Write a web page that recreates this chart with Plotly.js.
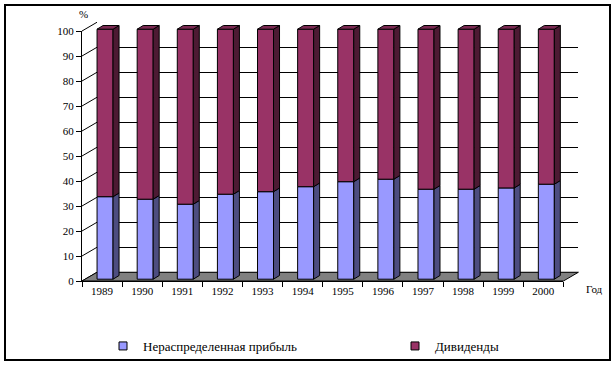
<!DOCTYPE html>
<html><head><meta charset="utf-8">
<script src="https://cdn.plot.ly/plotly-3.0.1.min.js"></script>
<style>html,body{margin:0;padding:0;background:#fff}</style>
</head><body><div id="chart" style="width:615px;height:365px"></div>
<script>
// ---- data ----
const years = ['1989','1990','1991','1992','1993','1994','1995','1996','1997','1998','1999','2000'];
const retained = [33, 32, 30, 34, 35, 37, 39, 40, 36, 36, 36.5, 38];
const dividends = [67, 68, 70, 66, 65, 63, 61, 60, 64, 64, 63.5, 62];
const yTicks = [0, 10, 20, 30, 40, 50, 60, 70, 80, 90, 100];
const seriesNames = ['Нераспределенная прибыль', 'Дивиденды'];

// ---- style / geometry ----
const W = 615, H = 365;
const PXX = (563.4 - 82) / 12;   // px per category
const PXY = 2.5;                 // px per percent
const DX = 15 / PXX, DY = 8.75 / PXY;   // wall depth
const FX = 3 / PXX, FY = 1.8 / PXY;     // bar front offset
const BX = 6 / PXX, BY = 3.7 / PXY;     // bar depth
const BW = 16 / PXX;                    // bar width
const colFront = ['#9999FF', '#993366'];
const colSide = ['#4D4D80', '#4D1A33'];
const colTop = ['#7A7ACC', '#7A2952'];

function px2x(px) { return (px - 82) / PXX - 0.5; }
function px2y(py) { return (281 - py) / PXY; }

function polys(list) {
  const x = [], y = [];
  list.forEach(p => {
    p.forEach(pt => { x.push(pt[0]); y.push(pt[1]); });
    x.push(p[0][0]); y.push(p[0][1]);
    x.push(null); y.push(null);
  });
  return {x, y};
}
function polyTrace(list, fill) {
  const p = polys(list);
  return {x: p.x, y: p.y, xaxis: 'x2', yaxis: 'y2', type: 'scatter', mode: 'lines',
    fill: 'toself', fillcolor: fill, line: {color: '#000', width: 1},
    showlegend: false, hoverinfo: 'skip'};
}

const traces = [];
// dummy for back wall subplot
traces.push({x: [0], y: [null], xaxis: 'x', yaxis: 'y', mode: 'markers', showlegend: false, hoverinfo: 'skip'});

// left wall diagonals
const dx = [], dy = [];
yTicks.forEach(v => { dx.push(-0.5, -0.5 + DX, null); dy.push(v, v + DY, null); });
traces.push({x: dx, y: dy, xaxis: 'x2', yaxis: 'y2', mode: 'lines', line: {color: '#000', width: 1}, showlegend: false, hoverinfo: 'skip'});

// floor
const n = years.length;
traces.push(polyTrace([[[-0.5, 0], [n - 0.5, 0], [n - 0.5 + DX, DY], [-0.5 + DX, DY]]], '#808080'));

// bars
const rFront = [], rSide = [], dFront = [], dSide = [], dTop = [];
for (let i = 0; i < n; i++) {
  const xl = i - BW / 2 + FX, xr = xl + BW;
  const y0 = FY, y1 = FY + retained[i], y2 = y1 + dividends[i];
  rFront.push([[xl, y0], [xr, y0], [xr, y1], [xl, y1]]);
  rSide.push([[xr, y0], [xr + BX, y0 + BY], [xr + BX, y1 + BY], [xr, y1]]);
  dFront.push([[xl, y1], [xr, y1], [xr, y2], [xl, y2]]);
  dSide.push([[xr, y1], [xr + BX, y1 + BY], [xr + BX, y2 + BY], [xr, y2]]);
  dTop.push([[xl, y2], [xr, y2], [xr + BX, y2 + BY], [xl + BX, y2 + BY]]);
}
traces.push(polyTrace(rFront, colFront[0]));
traces.push(polyTrace(rSide, colSide[0]));
traces.push(polyTrace(dFront, colFront[1]));
traces.push(polyTrace(dSide, colSide[1]));
traces.push(polyTrace(dTop, colTop[1]));

// legend entries (one legend box each)
seriesNames.forEach((nm, k) => {
  traces.push({x: [null], y: [null], xaxis: 'x2', yaxis: 'y2', type: 'scatter', mode: 'markers', name: nm,
    legend: k === 0 ? 'legend' : 'legend2',
    marker: {symbol: 'square', size: 8, color: colFront[k], line: {color: '#000', width: 1}}, hoverinfo: 'skip'});
});

// front axes dummy
traces.push({x: years, y: years.map(() => null), xaxis: 'x3', yaxis: 'y3', mode: 'markers', showlegend: false, hoverinfo: 'skip'});

const p2x0 = 60, p2x1 = 605, p2y0 = 10, p2y1 = 300;
const legStyle = (xpx) => ({orientation: 'h', x: xpx / W, y: 1 - 346 / H, xanchor: 'left', yanchor: 'middle',
  font: {size: 13, family: 'Liberation Serif'}, bgcolor: 'rgba(0,0,0,0)', borderwidth: 0});

const layout = {
  width: W, height: H, margin: {l: 0, r: 0, t: 0, b: 0, autoexpand: false},
  paper_bgcolor: '#fff', plot_bgcolor: 'rgba(0,0,0,0)',
  font: {family: 'Liberation Serif', size: 11, color: '#000'},
  showlegend: true,
  legend: legStyle(103),
  legend2: legStyle(395),
  hovermode: false,
  xaxis: {domain: [97 / W, 577.5 / W], range: [0, 1], visible: false, anchor: 'y', fixedrange: true},
  yaxis: {domain: [1 - 272.5 / H, 1 - 22.5 / H], range: [0, 100], dtick: 10, tick0: 0,
    showgrid: true, gridcolor: '#000', gridwidth: 1, zeroline: true, zerolinecolor: '#000', zerolinewidth: 1,
    showticklabels: false, ticks: '', showline: false, anchor: 'x', fixedrange: true},
  xaxis2: {domain: [p2x0 / W, p2x1 / W], range: [px2x(p2x0), px2x(p2x1)], visible: false, anchor: 'y2', fixedrange: true},
  yaxis2: {domain: [1 - p2y1 / H, 1 - p2y0 / H], range: [px2y(p2y1), px2y(p2y0)], visible: false, anchor: 'x2', fixedrange: true},
  xaxis3: {domain: [82 / W, 563.4 / W], type: 'category', categoryorder: 'array', categoryarray: years,
    range: [-0.5, n - 0.5], tickson: 'boundaries', ticks: 'outside', ticklen: 5, tickcolor: '#000', tickwidth: 1,
    showline: true, linecolor: '#000', linewidth: 1, showgrid: false, zeroline: false, anchor: 'y3', fixedrange: true,
    tickfont: {size: 11}, automargin: false},
  yaxis3: {domain: [1 - 281 / H, 1 - 31 / H], range: [0, 100], tickvals: yTicks, ticks: 'outside', ticklen: 5,
    tickcolor: '#000', showline: true, linecolor: '#000', linewidth: 1, showgrid: false, zeroline: false,
    anchor: 'x3', fixedrange: true, tickfont: {size: 11}, automargin: false},
  shapes: [{type: 'rect', xref: 'paper', yref: 'paper', x0: 5 / W, x1: 610 / W, y0: 1 - 360 / H, y1: 1 - 5 / H,
    line: {color: '#000', width: 2}, fillcolor: 'rgba(0,0,0,0)'}],
  annotations: [
    {text: '%', xref: 'paper', yref: 'paper', x: 83 / W, y: 1 - 14 / H, xanchor: 'center', yanchor: 'middle', showarrow: false, font: {size: 11}},
    {text: 'Год', xref: 'paper', yref: 'paper', x: 594 / W, y: 1 - 289 / H, xanchor: 'center', yanchor: 'middle', showarrow: false, font: {size: 11}}
  ]
};

Plotly.newPlot('chart', traces, layout, {displayModeBar: false, staticPlot: true});
</script>
</body></html>
